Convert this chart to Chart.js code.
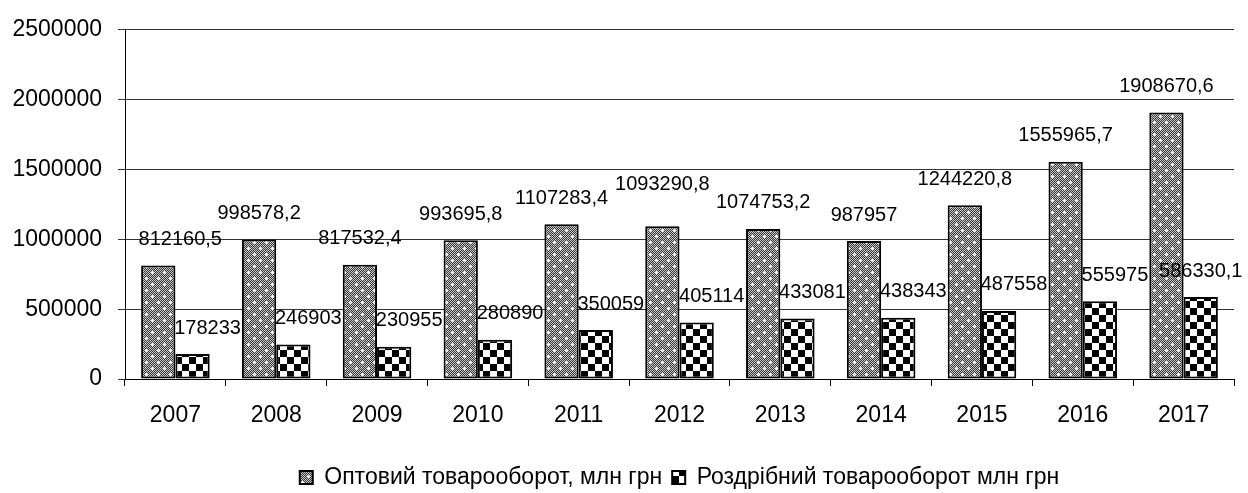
<!DOCTYPE html>
<html>
<head>
<meta charset="utf-8">
<script src="https://cdn.jsdelivr.net/npm/chart.js@4.4.1/dist/chart.umd.min.js"></script>
<style>
  html, body { margin: 0; padding: 0; background: #fff; }
  #wrap { width: 1248px; height: 493px; position: relative; }
</style>
</head>
<body>
<div id="wrap"><canvas id="chart"></canvas></div>
<script>
// data
const years = ['2007', '2008', '2009', '2010', '2011', '2012', '2013', '2014', '2015', '2016', '2017'];
const wholesale = [812160.5, 998578.2, 817532.4, 993695.8, 1107283.4, 1093290.8, 1074753.2, 987957, 1244220.8, 1555965.7, 1908670.6];
const retail = [178233, 246903, 230955, 280890, 350059, 405114, 433081, 438343, 487558, 555975, 586330.1];
const yTicks = [0, 500000, 1000000, 1500000, 2000000, 2500000];
const seriesNames = ['Оптовий товарооборот, млн грн', 'Роздрібний товарооборот млн грн'];

const FONT = '"Liberation Sans", Arial, sans-serif';

// Excel-like fill patterns
function dottedPattern() {
  const c = document.createElement('canvas');
  c.width = 12; c.height = 12;
  const g = c.getContext('2d');
  for (let y = 0; y < 12; y++) {
    for (let x = 0; x < 12; x++) {
      g.fillStyle = (x + y) % 2 ? '#383838' : '#c8c8c8';
      g.fillRect(x, y, 1, 1);
    }
  }
  g.fillStyle = '#fff';
  [[2, 2], [8, 8]].forEach(([x, y]) => {
    g.fillRect(x - 1, y, 3, 1);
    g.fillRect(x, y - 1, 1, 3);
  });
  return g.createPattern(c, 'repeat');
}

function checkerPattern() {
  const c = document.createElement('canvas');
  c.width = 14; c.height = 14;
  const g = c.getContext('2d');
  g.fillStyle = '#fff';
  g.fillRect(0, 0, 14, 14);
  g.fillStyle = '#000';
  g.fillRect(0, 0, 7, 7);
  g.fillRect(7, 7, 7, 7);
  return g.createPattern(c, 'repeat');
}

// value labels, Excel places them a bit off-centre here and there
const labelShift = [0, 15];
const labelNudge = { '0-0': [22, 0], '0-5': [0, -16], '1-10': [-15, 0] };

const valueLabels = {
  id: 'valueLabels',
  afterDatasetsDraw(chart) {
    const ctx = chart.ctx;
    ctx.save();
    ctx.font = '20px ' + FONT;
    ctx.fillStyle = '#000';
    ctx.textAlign = 'center';
    ctx.textBaseline = 'middle';
    chart.data.datasets.forEach((ds, di) => {
      chart.getDatasetMeta(di).data.forEach((bar, i) => {
        const txt = String(ds.data[i]).replace('.', ',');
        const n = labelNudge[di + '-' + i] || [0, 0];
        ctx.fillText(txt, bar.x + labelShift[di] + n[0], bar.y - 26 + n[1]);
      });
    });
    ctx.restore();
  }
};

const ctx = document.getElementById('chart').getContext('2d');
new Chart(ctx, {
  type: 'bar',
  data: {
    labels: years,
    datasets: [
      {
        label: seriesNames[0],
        data: wholesale,
        backgroundColor: dottedPattern(),
        borderColor: '#000',
        borderWidth: 2,
        borderSkipped: false
      },
      {
        label: seriesNames[1],
        data: retail,
        backgroundColor: checkerPattern(),
        borderColor: '#000',
        borderWidth: 2,
        borderSkipped: false
      }
    ]
  },
  options: {
    responsive: true,
    maintainAspectRatio: false,
    animation: false,
    datasets: { bar: { categoryPercentage: 0.68, barPercentage: 1.0 } },
    layout: { padding: { left: 12, right: 14, top: 12, bottom: -6 } },
    plugins: {
      tooltip: { enabled: false },
      legend: {
        position: 'bottom',
        fullSize: false,
        labels: {
          boxWidth: 13,
          boxHeight: 13,
          padding: 10,
          color: '#000',
          font: { family: FONT, size: 23 }
        }
      }
    },
    scales: {
      x: {
        offset: true,
        grid: { offset: true, drawOnChartArea: false, drawTicks: true, tickLength: 7, color: '#000' },
        border: { color: '#000', width: 1 },
        ticks: { color: '#000', padding: 16, font: { family: FONT, size: 23 } },
        afterFit: (s) => { s.height = 77; }
      },
      y: {
        min: 0,
        max: 2500000,
        afterBuildTicks: (s) => { s.ticks = yTicks.map(v => ({ value: v })); },
        grid: { color: '#333', tickLength: 7 },
        border: { color: '#000', width: 1 },
        ticks: {
          color: '#000',
          padding: 16,
          font: { family: FONT, size: 23 },
          callback: (v) => String(v)
        },
        afterFit: (s) => { s.width = 113; }
      }
    }
  },
  plugins: [valueLabels]
});
</script>
</body>
</html>
